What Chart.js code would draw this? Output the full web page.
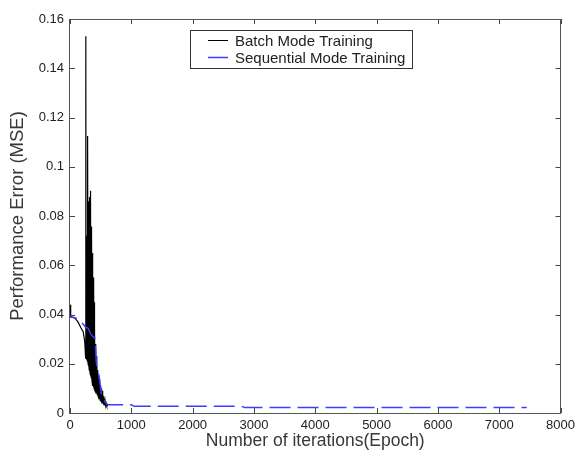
<!DOCTYPE html>
<html><head><meta charset="utf-8">
<script src="https://cdn.jsdelivr.net/npm/chart.js@4/dist/chart.umd.min.js"></script>
<style>html,body{margin:0;padding:0;background:#fff}#wrap{width:580px;height:461px}</style>
</head><body><div id="wrap"><canvas id="c" width="580" height="461"></canvas></div>
<script>
const xTickValues = [0, 1000, 2000, 3000, 4000, 5000, 6000, 7000, 8000];
const xTickLabels = ['0', '1000', '2000', '3000', '4000', '5000', '6000', '7000', '8000'];
const yTickValues = [0, 0.02, 0.04, 0.06, 0.08, 0.1, 0.12, 0.14, 0.16];
const yTickLabels = ['0', '0.02', '0.04', '0.06', '0.08', '0.1', '0.12', '0.14', '0.16'];
const seriesNames = ['Batch Mode Training', 'Sequential Mode Training'];
const xTitle = 'Number of iterations(Epoch)';
const yTitle = 'Performance Error (MSE)';

const batchX = [0, 8, 14, 30, 80, 130, 180, 215, 240, 255,
  258, 262, 266, 270, 274, 278, 283, 287, 291, 295, 299, 303, 307, 311, 315, 319, 323, 327,
  331, 335, 339, 343, 347, 351, 355, 359, 363, 367, 371, 375, 379, 383, 388, 392, 396, 400,
  404, 410, 416, 422, 428, 434, 440, 446, 452, 458, 464, 470, 476, 482, 488, 494, 500, 506,
  512, 518, 524, 530, 536, 542, 548, 554, 560, 566, 572, 580, 590, 600, 610, 620];
const batchY = [0.044, 0.044, 0.039, 0.039, 0.0385, 0.037, 0.0345, 0.033, 0.029, 0.0223,
  0.153, 0.0223, 0.072, 0.022, 0.070, 0.0215, 0.072, 0.021, 0.1125, 0.020, 0.082, 0.019, 0.086, 0.018, 0.0877, 0.017, 0.086, 0.016,
  0.0903, 0.0155, 0.082, 0.015, 0.0757, 0.014, 0.074, 0.013, 0.065, 0.0125, 0.058, 0.011, 0.055, 0.0105, 0.052, 0.010, 0.045, 0.0095,
  0.034, 0.009, 0.028, 0.0085, 0.023, 0.008, 0.0200, 0.0075, 0.0175, 0.0068, 0.0155, 0.0062, 0.0138, 0.0057, 0.0125, 0.0052, 0.0112, 0.0048,
  0.0100, 0.0044, 0.0090, 0.0041, 0.0080, 0.0038, 0.0068, 0.0035, 0.0058, 0.0033, 0.0048, 0.0031, 0.0040, 0.0030, 0.0034, 0.0030];

const seqX = [0, 60, 120, 160, 200, 250, 296, 340, 377, 410, 420, 431, 450, 474, 500, 512, 540, 565, 600, 620, 1000, 1050, 2800, 2850, 7450];
const seqY = [0.039, 0.0388, 0.0383, 0.0378, 0.0365, 0.035, 0.0344, 0.032, 0.031, 0.0303, 0.025, 0.0202, 0.0175, 0.0147, 0.010, 0.008, 0.0058, 0.0046, 0.0036, 0.0033, 0.0033, 0.0027, 0.0027, 0.0022, 0.0022];

const batchColor = '#000000';
const seqColor = '#3c3cff';
const FONT = '"Liberation Sans", Arial, sans-serif';

const framePlugin = {
  id: 'frame',
  afterDatasetsDraw(chart) {
    const ctx = chart.ctx, a = chart.chartArea;
    const xs = chart.scales.x, ys = chart.scales.y;
    ctx.save();
    ctx.strokeStyle = '#444';
    ctx.lineWidth = 1;
    ctx.beginPath();
    xs.ticks.forEach(t => {
      const px = Math.round(xs.getPixelForValue(t.value)) + 0.5;
      ctx.moveTo(px, a.bottom); ctx.lineTo(px, a.bottom - 5);
      ctx.moveTo(px, a.top); ctx.lineTo(px, a.top + 5);
    });
    ys.ticks.forEach(t => {
      const py = Math.round(ys.getPixelForValue(t.value)) + 0.5;
      ctx.moveTo(a.left, py); ctx.lineTo(a.left + 5, py);
      ctx.moveTo(a.right, py); ctx.lineTo(a.right - 5, py);
    });
    ctx.stroke();
    ctx.strokeStyle = '#555';
    ctx.strokeRect(Math.round(a.left) - 0.5, Math.round(a.top) + 0.5, Math.round(a.right - a.left), Math.round(a.bottom - a.top));
    // legend
    const lx = 190, ly = 30, lw = 222, lh = 38;
    ctx.fillStyle = '#fff';
    ctx.fillRect(lx, ly, lw, lh);
    ctx.strokeStyle = '#333';
    ctx.strokeRect(lx + 0.5, ly + 0.5, lw, lh);
    const rows = [{ y: 40.5, color: batchColor, w: 1, name: seriesNames[0] }, { y: 57.5, color: seqColor, w: 1.5, name: seriesNames[1] }];
    rows.forEach(r => {
      ctx.strokeStyle = r.color; ctx.lineWidth = r.w;
      ctx.beginPath(); ctx.moveTo(208, r.y); ctx.lineTo(228, r.y); ctx.stroke();
      ctx.fillStyle = '#222';
      ctx.font = '15px ' + FONT;
      ctx.textBaseline = 'middle';
      ctx.textAlign = 'left';
      ctx.fillText(r.name, 235, r.y + 1);
    });
    ctx.restore();
  }
};

new Chart(document.getElementById('c'), {
  type: 'line',
  data: {
    datasets: [
      { label: seriesNames[0], data: batchX.map((x, i) => ({ x, y: batchY[i] })), borderColor: batchColor, borderWidth: 1.2, pointRadius: 0, tension: 0, order: 2 },
      { label: seriesNames[1], data: seqX.map((x, i) => ({ x, y: seqY[i] })), borderColor: seqColor, borderWidth: 1.5, borderDash: [21, 7], borderDashOffset: 14, pointRadius: 0, tension: 0, order: 1 }
    ]
  },
  options: {
    responsive: false,
    animation: false,
    devicePixelRatio: 1,
    layout: { padding: { top: 19, right: 15, left: 0, bottom: 0 } },
    plugins: { legend: { display: false }, tooltip: { enabled: false } },
    scales: {
      x: {
        type: 'linear', min: 0, max: 8000,
        afterBuildTicks: s => { s.ticks = xTickValues.map(v => ({ value: v })); },
        afterFit: s => { s.height = 48; },
        ticks: { callback: (v, i) => xTickLabels[i], font: { size: 13, family: FONT }, color: '#222', padding: 5, maxRotation: 0, autoSkip: false },
        grid: { display: false, drawTicks: false },
        border: { display: false },
        title: { display: true, text: xTitle, font: { size: 17.5, family: FONT }, color: '#383838', padding: { top: 0, bottom: 9 } }
      },
      y: {
        type: 'linear', min: 0, max: 0.16,
        afterBuildTicks: s => { s.ticks = yTickValues.map(v => ({ value: v })); },
        afterFit: s => { s.width = 70; },
        ticks: { callback: (v, i) => yTickLabels[i], font: { size: 13, family: FONT }, color: '#222', padding: 6, autoSkip: false },
        grid: { display: false, drawTicks: false },
        border: { display: false },
        title: { display: true, text: yTitle, font: { size: 18.5, family: FONT }, color: '#383838', padding: { top: 7, bottom: 0 } }
      }
    }
  },
  plugins: [framePlugin]
});
</script>
</body></html>
